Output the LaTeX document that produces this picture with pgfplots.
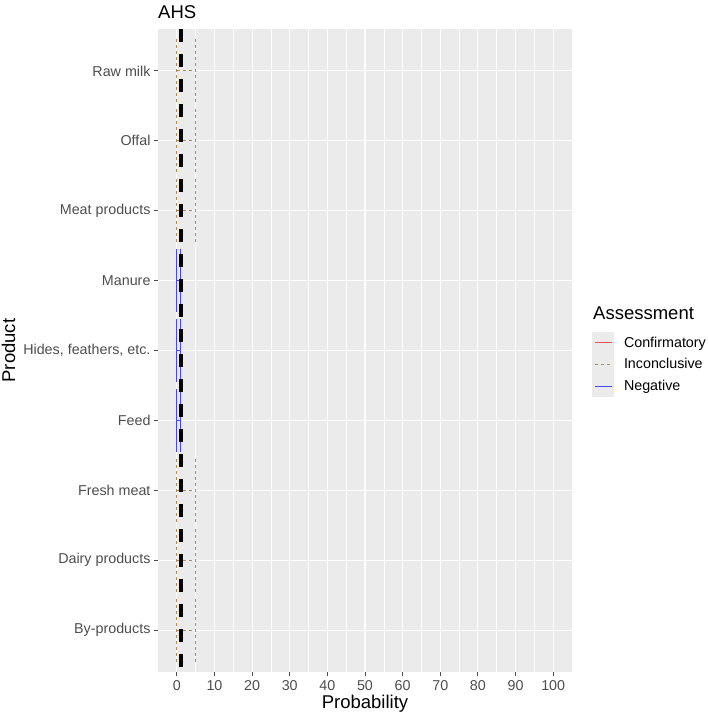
\documentclass[border=0pt]{standalone}
\usepackage{fontspec}
\setmainfont{Liberation Sans}
\usepackage{pgfplots}
\pgfplotsset{compat=1.18}
\definecolor{panelbg}{HTML}{EBEBEB}
\definecolor{gold}{RGB}{176,141,87}
\definecolor{negblue}{RGB}{70,70,250}
\definecolor{confred}{RGB}{250,80,80}
\definecolor{tickgrey}{HTML}{4D4D4D}
\begin{document}
\begin{tikzpicture}[x=1pt,y=1pt]
\useasboundingbox (0,0) rectangle (709,716);
\begin{axis}[
  at={(158pt,44pt)}, anchor=south west,
  scale only axis, width=414pt, height=643pt,
  xmin=-5, xmax=105, ymin=0.4, ymax=9.6,
  axis background/.style={fill=panelbg},
  axis x line*=bottom, axis y line*=left,
  axis line style={draw=none},
  xtick={0,10,...,100}, minor xtick={5,15,...,95},
  ytick={1,...,9},
  yticklabels={By-products,Dairy products,Fresh meat,Feed,{Hides, feathers, etc.},Manure,Meat products,Offal,Raw milk},
  grid=both,
  major grid style={white, line width=1.1pt},
  minor grid style={white, line width=0.55pt},
  tick align=outside, major tick length=4pt, minor tick length=0pt,
  every tick/.style={tickgrey, line width=0.9pt},
  ticklabel style={font=\fontsize{14.3}{16}\selectfont, text=tickgrey},
  xticklabel style={yshift=-1pt},
  /pgf/number format/assume math mode=true,
  every axis title shift=0pt,
  title={AHS},
  title style={at={(axis description cs:0,1.0171)}, anchor=base west, inner sep=0pt, font=\fontsize{18.5}{22}\selectfont},
  xlabel={Probability}, ylabel={Product},
  xlabel style={at={(axis description cs:0.5,-0.056)}, anchor=base, inner sep=0pt, font=\fontsize{18.5}{22}\selectfont},
  ylabel style={at={(axis description cs:-0.3454,0.5)}, anchor=base, inner sep=0pt, font=\fontsize{18.5}{22}\selectfont},
  unbounded coords=jump,
  legend cell align=left,
  legend style={at={(axis description cs:1.0476,0.5289)}, anchor=north west,
    draw=none, fill=none, inner sep=0pt, outer sep=0pt, row sep=0pt,
    nodes={inner sep=0pt},
    /tikz/every odd column/.append style={column sep=9.7pt},
    font=\fontsize{14.3}{16}\selectfont},
  legend image code/.code={%
    \fill[panelbg, draw=none, solid] (0pt,-10.85pt) rectangle (22.6pt,10.85pt);
    \draw (3.4pt,0pt) -- (20.4pt,0pt);},
]
% Inconclusive: interval 0 to 5
\addplot[gold, line width=1pt, dash pattern=on 3pt off 3pt, forget plot] coordinates {
  (0,8.55) (0,9.45) (nan,nan) (0,9) (5,9) (nan,nan) (5,8.55) (5,9.45) (nan,nan)
  (0,7.55) (0,8.45) (nan,nan) (0,8) (5,8) (nan,nan) (5,7.55) (5,8.45) (nan,nan)
  (0,6.55) (0,7.45) (nan,nan) (0,7) (5,7) (nan,nan) (5,6.55) (5,7.45) (nan,nan)
  (0,2.55) (0,3.45) (nan,nan) (0,3) (5,3) (nan,nan) (5,2.55) (5,3.45) (nan,nan)
  (0,1.55) (0,2.45) (nan,nan) (0,2) (5,2) (nan,nan) (5,1.55) (5,2.45) (nan,nan)
  (0,0.55) (0,1.45) (nan,nan) (0,1) (5,1) (nan,nan) (5,0.55) (5,1.45)
};
% Negative: interval 0 to 1.1
\addplot[negblue, line width=1pt, forget plot] coordinates {
  (0,5.55) (0,6.45) (nan,nan) (0,6) (1.1,6) (nan,nan) (1.1,5.55) (1.1,6.45) (nan,nan)
  (0,4.55) (0,5.45) (nan,nan) (0,5) (1.1,5) (nan,nan) (1.1,4.55) (1.1,5.45) (nan,nan)
  (0,3.55) (0,4.45) (nan,nan) (0,4) (1.1,4) (nan,nan) (1.1,3.55) (1.1,4.45)
};
% reference line
\addplot[black, line width=3.8pt, dash pattern=on 13pt off 12pt, forget plot] coordinates {(1.2,9.6) (1.2,0.4)};
\addlegendimage{confred, line width=1pt}
\addlegendentry{Confirmatory}
\addlegendimage{gold, line width=1pt, dash pattern=on 3pt off 3pt}
\addlegendentry{Inconclusive}
\addlegendimage{negblue, line width=1pt}
\addlegendentry{Negative}
\end{axis}
\node[anchor=base west, inner sep=0pt, font=\fontsize{18.5}{22}\selectfont] at (593,396) {Assessment};
\end{tikzpicture}
\end{document}
